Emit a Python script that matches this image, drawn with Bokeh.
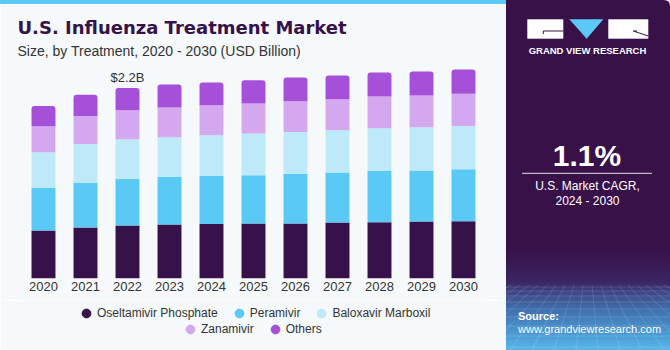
from bokeh.plotting import figure
from bokeh.models import (ColumnDataSource, FactorRange, Range1d, Title, Legend, LegendItem, Div)
from bokeh.layouts import row, column
from bokeh.embed import file_html
from bokeh.resources import INLINE
from bokeh.core.properties import value

# ---------------- data ----------------
years = ["2020", "2021", "2022", "2023", "2024", "2025", "2026", "2027", "2028", "2029", "2030"]
oseltamivir = [0.554, 0.589, 0.612, 0.624, 0.630, 0.635, 0.635, 0.647, 0.650, 0.658, 0.662]
peramivir = [0.492, 0.516, 0.538, 0.550, 0.554, 0.558, 0.573, 0.577, 0.592, 0.589, 0.600]
baloxavir = [0.412, 0.447, 0.458, 0.458, 0.470, 0.481, 0.485, 0.488, 0.493, 0.500, 0.500]
zanamivir = [0.300, 0.323, 0.335, 0.343, 0.346, 0.346, 0.354, 0.358, 0.366, 0.366, 0.370]
others = [0.234, 0.246, 0.258, 0.266, 0.262, 0.269, 0.274, 0.274, 0.277, 0.277, 0.282]

series_names = ["Oseltamivir Phosphate", "Peramivir", "Baloxavir Marboxil", "Zanamivir", "Others"]
series_keys = ["osel", "pera", "balox", "zana", "oth"]
series_colors = ["#37114A", "#5BC9F5", "#BDE9F9", "#D4A8EE", "#A550D8"]
highlight_year = "2022"
cagr_text = "1.1%"
cagr_label = ["U.S. Market CAGR,", "2024 - 2030"]

CARD = "#F5F9FC"
PURPLE = "#381149"
FONT = "Liberation Sans"

src = ColumnDataSource(data=dict(year=years, osel=oseltamivir, pera=peramivir,
                                 balox=baloxavir, zana=zanamivir, oth=others))

# ---------------- top strip ----------------
strip = Div(text="", width=506, height=4, margin=0,
            styles={"background-color": "#5BC8F5", "margin": "0", "padding": "0"})

# ---------------- chart ----------------
p = figure(x_range=FactorRange(*years, range_padding=0), y_range=Range1d(0, 2.5173),
           width=506, height=296, output_backend="svg", toolbar_location=None, title=None,
           y_axis_location=None, min_border_left=22, min_border_right=22,
           min_border_top=56, min_border_bottom=22, margin=0,
           background_fill_color=CARD, border_fill_color=CARD, outline_line_color=None)
p.xgrid.visible = False
p.ygrid.visible = False

stack = p.vbar_stack(series_keys, x="year", width=0.57, color=series_colors, line_color=None,
                     source=src)
try:
    stack[-1].glyph.border_radius = (3, 3, 0, 0)
except Exception:
    pass

p.xaxis.axis_line_color = None
p.xaxis.major_tick_line_color = None
p.xaxis.minor_tick_line_color = None
p.xaxis.major_tick_out = 0
p.xaxis.major_label_standoff = 3
p.xaxis.major_label_text_font = FONT
p.xaxis.major_label_text_font_size = "13px"
p.xaxis.major_label_text_color = "#333333"

i = years.index(highlight_year)
tot = oseltamivir[i] + peramivir[i] + baloxavir[i] + zanamivir[i] + others[i]
lab_src = ColumnDataSource(data=dict(x=[highlight_year], y=[tot], t=["$%.1fB" % tot]))
p.text(x="x", y="y", text="t", source=lab_src, text_align="center", text_baseline="alphabetic",
       y_offset=-10, text_font=value(FONT), text_font_size="13px", text_color="#333333")

p.add_layout(Title(text="Size, by Treatment, 2020 - 2030 (USD Billion)", align="left", offset=-5,
                   standoff=3, text_font=FONT, text_font_style="normal", text_font_size="14px",
                   text_color="#333333"), "above")
p.add_layout(Title(text="U.S. Influenza Treatment Market", align="left", offset=-5, standoff=3,
                   text_font="DejaVu Sans", text_font_style="bold", text_font_size="18px",
                   text_color="#37114A"), "above")

# ---------------- legend strip ----------------
lf = figure(width=506, height=50, x_range=Range1d(0, 1), y_range=Range1d(0, 1),
            output_backend="svg", toolbar_location=None, title=None,
            x_axis_location=None, y_axis_location=None, margin=0,
            min_border_left=22, min_border_right=22, min_border_top=0, min_border_bottom=0,
            background_fill_color=CARD, border_fill_color=CARD, outline_line_color=None)
lf.xgrid.visible = False
lf.ygrid.visible = False
rends = []
for col in series_colors:
    # a single off-range point so the legend has a marker to draw
    r = lf.scatter(x="x", y="y", source=ColumnDataSource(data=dict(x=[-5], y=[-5])),
                   marker="circle", size=9, fill_color=col, line_color=col)
    rends.append(r)

def make_legend(idx, loc):
    return Legend(items=[LegendItem(label=series_names[k], renderers=[rends[k]]) for k in idx],
                  orientation="horizontal", location=loc, glyph_width=22, glyph_height=22,
                  label_standoff=0, spacing=10, padding=0, margin=0,
                  border_line_color=None, background_fill_alpha=0,
                  label_text_font=FONT, label_text_font_size="12px",
                  label_text_color="#333333")

lf.add_layout(make_legend([0, 1, 2], (53, 26.5)))
lf.add_layout(make_legend([3, 4], (157, 10.5)))

# ---------------- right panel (inline svg) ----------------
def gridlines():
    out = []
    for yy in [287, 291, 296, 302, 309, 317, 326, 336, 347]:
        out.append('<line x1="0" x2="164" y1="%s" y2="%s"/>' % (yy, yy))
    vx, vy = 82, 240
    for bx in range(-260, 430, 22):
        t = (285 - vy) / (350 - vy)
        out.append('<line x1="%.1f" y1="285" x2="%d" y2="350"/>' % (vx + (bx - vx) * t, bx))
    return "".join(out)

svg = f'''<svg xmlns="http://www.w3.org/2000/svg" width="164" height="350" style="display:block">
<defs><linearGradient id="bg" x1="0" y1="0" x2="0" y2="1">
<stop offset="0" stop-color="{PURPLE}"/><stop offset="0.714" stop-color="{PURPLE}"/>
<stop offset="0.806" stop-color="#3C2562"/><stop offset="0.834" stop-color="#3D4584"/>
<stop offset="0.874" stop-color="#4067A6"/><stop offset="0.931" stop-color="#488DC8"/>
<stop offset="1" stop-color="#56B6E9"/></linearGradient></defs>
<path d="M0,0 H158 Q164,0 164,6 V350 H0 Z" fill="url(#bg)"/>
<g stroke="white" stroke-opacity="0.13" stroke-width="1">{gridlines()}</g>
<rect x="21.3" y="19.3" width="36" height="19.4" fill="white"/>
<rect x="102.3" y="19.3" width="40" height="19.4" fill="white"/>
<polygon points="63.3,19.3 97.3,19.3 80.7,38.7" fill="#5BC8F5"/>
<g stroke="{PURPLE}" stroke-width="1"><line x1="37.3" y1="31" x2="57.3" y2="31"/>
<line x1="37.3" y1="31" x2="37.3" y2="34"/><line x1="127.3" y1="31" x2="142.3" y2="36"/>
<line x1="127.3" y1="31" x2="131" y2="31"/></g>
<g font-family="{FONT}" fill="white">
<text x="81.5" y="53.7" text-anchor="middle" font-weight="bold" font-size="9.5px">GRAND VIEW RESEARCH</text>
<text x="81" y="166" text-anchor="middle" font-weight="bold" font-size="30px">{cagr_text}</text>
<text x="81.5" y="189.5" text-anchor="middle" font-size="12px">{cagr_label[0]}</text>
<text x="81.5" y="205" text-anchor="middle" font-size="12px">{cagr_label[1]}</text>
<text x="12" y="320" font-weight="bold" font-size="11px">Source:</text>
<text x="12" y="332.7" font-size="11px">www.grandviewresearch.com</text>
</g>
<line x1="16" x2="146" y1="173.3" y2="173.3" stroke="#E6E0EA" stroke-width="1"/>
</svg>'''

right = Div(text=svg, width=164, height=350, margin=0, styles={"margin": "0", "padding": "0"})

layout = row(column(strip, p, lf, spacing=0, margin=0), right, spacing=0, margin=0)
open("out.html", "w").write(file_html(layout, INLINE))
